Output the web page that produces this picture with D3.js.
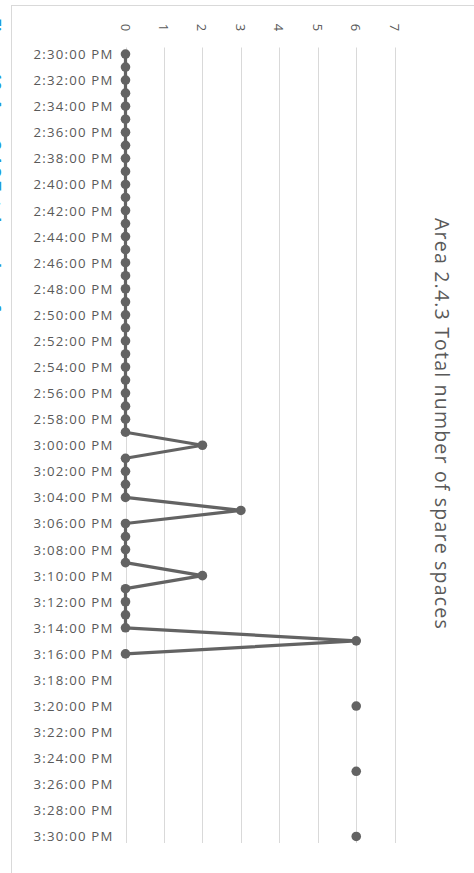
<!DOCTYPE html>
<html>
<head>
<meta charset="utf-8">
<script src="https://cdn.jsdelivr.net/npm/d3@7/dist/d3.min.js"></script>
<style>
  html, body { margin: 0; padding: 0; background: #fff; overflow: hidden; }
  svg { display: block; }
</style>
</head>
<body>
<script>
// ---- data ----
const chartTitle = "Area 2.4.3 Total number of spare spaces";
const captionText = "Figure 10: Area 2.4.3 Total number of spare spaces";
// one category per minute, 2:30 PM .. 3:30 PM
const times = [
  "2:30:00 PM","2:31:00 PM","2:32:00 PM","2:33:00 PM","2:34:00 PM","2:35:00 PM","2:36:00 PM","2:37:00 PM",
  "2:38:00 PM","2:39:00 PM","2:40:00 PM","2:41:00 PM","2:42:00 PM","2:43:00 PM","2:44:00 PM","2:45:00 PM",
  "2:46:00 PM","2:47:00 PM","2:48:00 PM","2:49:00 PM","2:50:00 PM","2:51:00 PM","2:52:00 PM","2:53:00 PM",
  "2:54:00 PM","2:55:00 PM","2:56:00 PM","2:57:00 PM","2:58:00 PM","2:59:00 PM","3:00:00 PM","3:01:00 PM",
  "3:02:00 PM","3:03:00 PM","3:04:00 PM","3:05:00 PM","3:06:00 PM","3:07:00 PM","3:08:00 PM","3:09:00 PM",
  "3:10:00 PM","3:11:00 PM","3:12:00 PM","3:13:00 PM","3:14:00 PM","3:15:00 PM","3:16:00 PM","3:17:00 PM",
  "3:18:00 PM","3:19:00 PM","3:20:00 PM","3:21:00 PM","3:22:00 PM","3:23:00 PM","3:24:00 PM","3:25:00 PM",
  "3:26:00 PM","3:27:00 PM","3:28:00 PM","3:29:00 PM","3:30:00 PM"
];
const spareSpaces = [
  0,0,0,0,0,0,0,0,0,0,
  0,0,0,0,0,0,0,0,0,0,
  0,0,0,0,0,0,0,0,0,0,
  2,0,0,0,0,3,0,0,0,0,
  2,0,0,0,0,6,0,null,null,null,
  6,null,null,null,null,6,null,null,null,null,
  6
];
const valueTicks = [0,1,2,3,4,5,6,7];
const timeTickLabels = times.filter((t, i) => i % 2 === 0);

// ---- layout ----
const W = 474, H = 873;
const svg = d3.select("body").append("svg").attr("width", W).attr("height", H);
const font = "'Open Sans', sans-serif";
const textColor = "#595959";
const seriesColor = "#636363";

// caption (cut off at left edge, as in the reference)
svg.append("text")
  .attr("transform", "translate(-11,18) rotate(90)")
  .attr("font-family", font).attr("font-size", 16).attr("font-weight", "bold")
  .attr("fill", "#1F9AD6")
  .text(captionText);

// chart frame
svg.append("rect")
  .attr("x", 11.5).attr("y", 5.5).attr("width", 600).attr("height", 1000)
  .attr("fill", "#fff").attr("stroke", "#d9d9d9").attr("stroke-width", 1);

const x = d3.scaleLinear().domain([0, 7]).range([125.5, 394.7]);
const y = d3.scalePoint().domain(times).range([47.5, 843]).padding(0.5);

// gridlines
svg.append("g").selectAll("line").data(valueTicks).join("line")
  .attr("x1", d => Math.round(x(d)) + 0.5).attr("x2", d => Math.round(x(d)) + 0.5)
  .attr("y1", 47.5).attr("y2", 843)
  .attr("stroke", "#d9d9d9").attr("stroke-width", 1);

// value tick labels (rotated)
svg.append("g").selectAll("text").data(valueTicks).join("text")
  .attr("transform", d => `translate(${x(d)},27.5) rotate(90)`)
  .attr("text-anchor", "middle").attr("dominant-baseline", "central")
  .attr("font-family", font).attr("font-size", 13).attr("fill", textColor)
  .text(d => d);

// time labels
const tl = svg.append("g").selectAll("text").data(timeTickLabels).join("text")
  .attr("x", 113.5).attr("y", d => y(d))
  .attr("text-anchor", "end").attr("dominant-baseline", "central")
  .attr("font-family", font).attr("font-size", 13.2).attr("fill", textColor)
  .text(d => d);
// fit label width to ~80px
const w0 = tl.node().getComputedTextLength();
tl.attr("letter-spacing", ((80 - w0) / 10).toFixed(2) + "px");

// series line
const pts = times.map((t, i) => ({ t, v: spareSpaces[i] }));
const line = d3.line().defined(d => d.v !== null).x(d => x(d.v)).y(d => y(d.t));
svg.append("path").datum(pts)
  .attr("d", line).attr("fill", "none")
  .attr("stroke", seriesColor).attr("stroke-width", 3.2).attr("stroke-linejoin", "round");

svg.append("g").selectAll("circle").data(pts.filter(d => d.v !== null)).join("circle")
  .attr("cx", d => x(d.v)).attr("cy", d => y(d.t)).attr("r", 4.8)
  .attr("fill", seriesColor);

// title (rotated)
const title = svg.append("text")
  .attr("transform", "translate(442,424) rotate(90)")
  .attr("text-anchor", "middle").attr("dominant-baseline", "central")
  .attr("font-family", font).attr("font-size", 19.5).attr("fill", textColor)
  .text(chartTitle);
const tw = title.node().getComputedTextLength();
title.attr("letter-spacing", ((412 - tw) / chartTitle.length).toFixed(2) + "px");
</script>
</body>
</html>
